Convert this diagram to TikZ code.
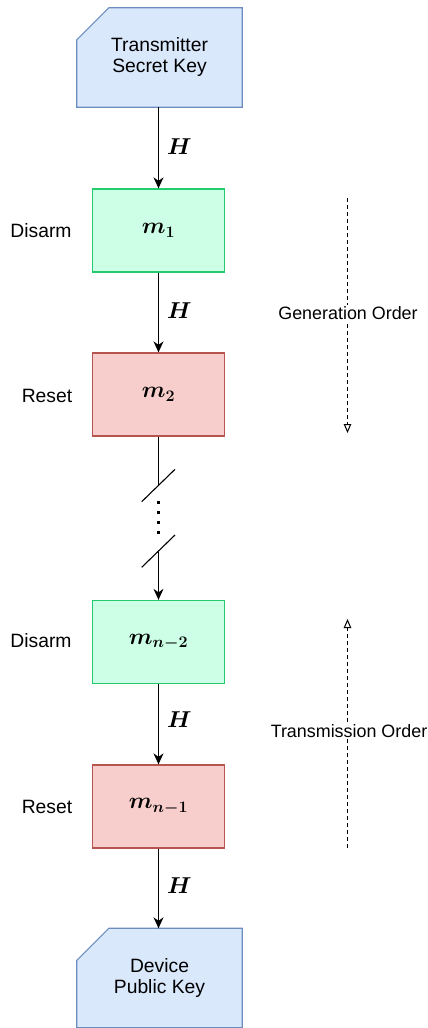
\documentclass[tikz,border=0pt]{standalone}
\usepackage{fix-cm}
\usepackage{fontspec}
\setmainfont{Liberation Sans}
\usepackage{amsmath}
\usepackage{bm}
\usetikzlibrary{arrows.meta}
\definecolor{keyfill}{HTML}{DAE8FC}
\definecolor{keyline}{HTML}{6C8EBF}
\definecolor{disfill}{HTML}{CCFFE6}
\definecolor{disline}{HTML}{22CC6E}
\definecolor{resfill}{HTML}{F8CECC}
\definecolor{resline}{HTML}{B85450}
\newcommand{\mathsz}{\fontsize{23}{27}\selectfont}
\begin{document}
\begin{tikzpicture}[x=1pt,y=-1pt,
  every node/.style={font=\fontsize{19.3}{21}\selectfont},
  keycard/.style={minimum width=165pt,minimum height=99pt,inner sep=0pt,align=center},
  msgbox/.style={draw,line width=1.3pt,minimum width=132pt,minimum height=83pt,inner sep=0pt},
  disarm/.style={msgbox,fill=disfill,draw=disline},
  reset/.style={msgbox,fill=resfill,draw=resline},
  flow/.style={line width=1.2pt,-{Stealth[length=11pt,width=10pt,inset=3.5pt]}},
  order/.style={line width=1pt,dash pattern=on 4pt off 3pt,-{Triangle[open,length=9pt,width=7.5pt]}},
  hlabel/.style={anchor=west,inner sep=0pt,font=\mathsz},
  ordlabel/.style={fill=white,inner sep=1pt,font=\fontsize{17.9}{21}\selectfont},
  side/.style={anchor=center}
]
\useasboundingbox (0,0) rectangle (428,1028);

% key cards with a clipped top-left corner
\node[keycard] (tsk) at (159.5,57.5) {};
\node[keycard] (dpk) at (159.5,978) {};
\foreach \k in {tsk,dpk}{
  \draw[fill=keyfill,draw=keyline,line width=1.2pt]
    ([yshift=-32pt]\k.north west) -- ([xshift=32pt]\k.north west)
    -- (\k.north east) -- (\k.south east) -- (\k.south west) -- cycle;
}
\node[keycard] at (tsk) {Transmitter\\Secret Key};
\node[keycard] at (dpk) {Device\\Public Key};

% message boxes
\node[disarm] (m1) at (158.5,230.5) {\mathsz$\bm{m_1}$};
\node[reset]  (m2) at (158.5,394.5) {\mathsz$\bm{m_2}$};
\node[disarm] (mn2) at (158.5,642) {\mathsz$\bm{m_{n-2}}$};
\node[reset]  (mn1) at (158.5,806.5) {\mathsz$\bm{m_{n-1}}$};

% side labels
\node[side] (l1) at (41,231) {Disarm};
\node[side] (l2) at (47,396) {Reset};
\node[side] (l3) at (41,641) {Disarm};
\node[side] (l4) at (47,807) {Reset};

% hash steps
\draw[flow] (tsk.south -| m1.north) -- (m1.north);
\draw[flow] (m1.south) -- (m2.north);
\draw[flow] (mn2.south) -- (mn1.north);
\draw[flow] (mn1.south) -- (dpk.north -| mn1.south);
\node[hlabel] (h1) at (167,147) {$\bm{H}$};
\node[hlabel] (h2) at (167,311) {$\bm{H}$};
\node[hlabel] (h3) at (167,720) {$\bm{H}$};
\node[hlabel] (h4) at (167,886) {$\bm{H}$};

% broken chain between m_2 and m_{n-2}
\coordinate (brk1) at (158.5,486);
\coordinate (brk2) at (158.5,551.7);
\draw[line width=1.2pt] (m2.south) -- (brk1);
\draw[flow] (brk2) -- (mn2.north);
\draw[line width=1.1pt] (141.7,501.7) -- (175,469.3);
\draw[line width=1.1pt] (141.7,567.3) -- (175,535);
\foreach \yy in {502.7,512.7,522.7,532.7}
  \fill (157,\yy-1.5) rectangle (160,\yy+1.5);

% order annotations
\coordinate (g1) at (347.5,198);
\coordinate (g2) at (347.5,433);
\draw[order] (g1) -- (g2);
\node[ordlabel] (gen) at (348,313) {Generation Order};
\coordinate (t1) at (347.5,848);
\coordinate (t2) at (347.5,619);
\draw[order] (t1) -- (t2);
\node[ordlabel] (tra) at (349,731) {Transmission Order};
\end{tikzpicture}
\end{document}
